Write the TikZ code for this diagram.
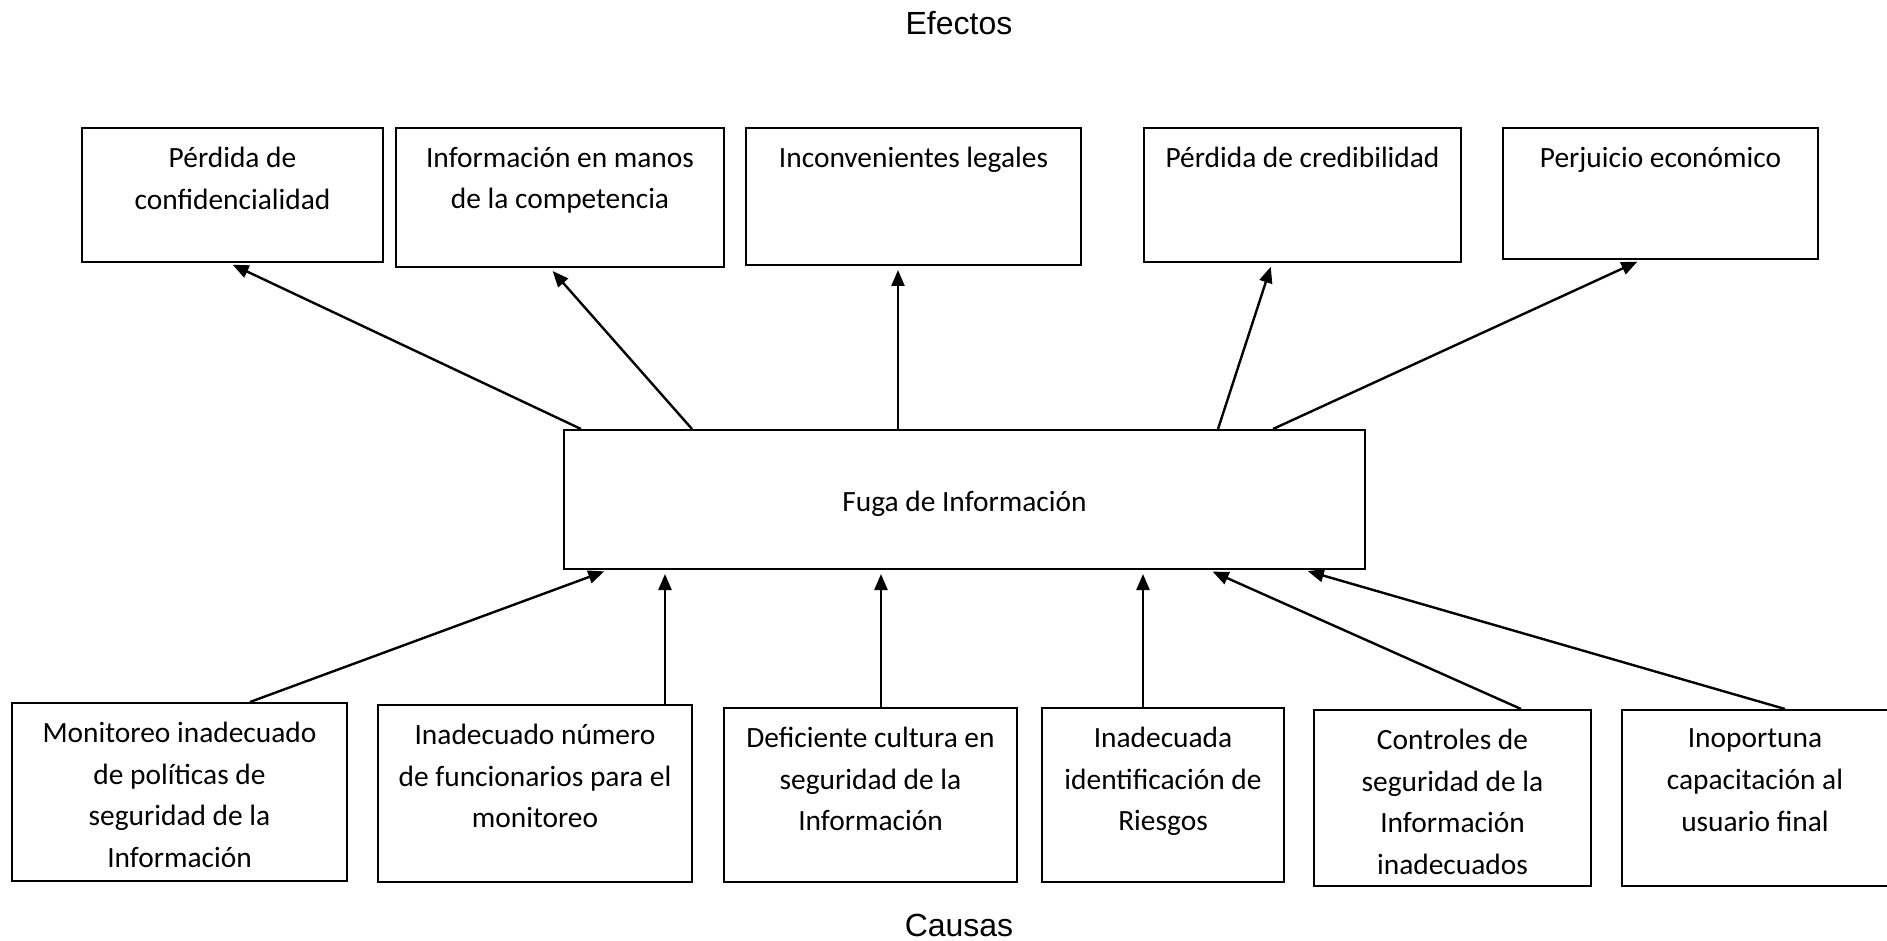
\documentclass[tikz,border=0pt]{standalone}
\usepackage{fontspec}
\setmainfont{Carlito}
\newfontfamily\titlefont{Liberation Sans}
\usetikzlibrary{arrows.meta}
\begin{document}
\begin{tikzpicture}[x=0.5pt,y=-0.5pt,
  box/.style 2 args={draw, line width=1pt, minimum width=#1*0.5pt, minimum height=#2*0.5pt, inner sep=0pt},
  boxtext/.style={anchor=north, align=center, yshift=-6.5pt, font=\fontsize{14.7pt}{20.8pt}\selectfont},
  arr/.style={line width=1.2pt, -{Triangle[length=8pt,width=6.5pt]}, shorten >=2pt},
  titulo/.style={font=\titlefont\fontsize{16pt}{19pt}\selectfont}]
\useasboundingbox (0,0) rectangle (1887,941);
\node[titulo] (efectos) at (959,23) {Efectos};
\node[titulo] (causas) at (959,925) {Causas};
% efectos
\node[box={301}{134}, label={[boxtext]north:{Pérdida de\\confidencialidad}}] (e1) at (232.5,195) {};
\node[box={328}{139}, label={[boxtext]north:{Información en manos\\de la competencia}}] (e2) at (560,197.5) {};
\node[box={335}{137}, label={[boxtext]north:{Inconvenientes legales}}] (e3) at (913.5,196.5) {};
\node[box={317}{134}, label={[boxtext]north:{Pérdida de credibilidad}}] (e4) at (1302.5,195) {};
\node[box={315}{131}, label={[boxtext]north:{Perjuicio económico}}] (e5) at (1660.5,193.5) {};
% problema central
\node[box={801}{139}, font=\fontsize{14.7pt}{20.8pt}\selectfont, text height=15.4pt, text depth=3pt] (fuga) at (964.5,499.5) {Fuga de Información};
% causas
\node[box={335}{178}, label={[boxtext]north:{Monitoreo inadecuado\\de políticas de\\seguridad de la\\Información}}] (c1) at (179.5,792) {};
\node[box={314}{177}, label={[boxtext]north:{Inadecuado número\\de funcionarios para el\\monitoreo}}] (c2) at (535,793.5) {};
\node[box={293}{174}, label={[boxtext]north:{Deficiente cultura en\\seguridad de la\\Información}}] (c3) at (870.5,795) {};
\node[box={242}{174}, label={[boxtext]north:{Inadecuada\\identificación de\\Riesgos}}] (c4) at (1163,795) {};
\node[box={277}{176}, label={[boxtext]north:{Controles de\\seguridad de la\\Información\\inadecuados}}] (c5) at (1452.5,798) {};
\node[box={266}{176}, label={[boxtext]north:{Inoportuna\\capacitación al\\usuario final}}] (c6) at (1755,798) {};
% flechas hacia los efectos
\draw[arr] (fuga.north -| 581,0) -- (e1.south -| 229,0);
\draw[arr] (fuga.north -| 692,0) -- (e2.south -| 550,0);
\draw[arr] (fuga.north -| 898,0) -- (e3.south -| 898,0);
\draw[arr] (fuga.north -| 1218,0) -- (e4.south -| 1272,0);
\draw[arr] (fuga.north -| 1273,0) -- (e5.south -| 1641,0);
% flechas desde las causas
\draw[arr] (c1.north -| 250,0) -- (fuga.south -| 608,0);
\draw[arr] (c2.north -| 665,0) -- (fuga.south -| 665,0);
\draw[arr] (c3.north -| 881,0) -- (fuga.south -| 881,0);
\draw[arr] (c4.north -| 1143,0) -- (fuga.south -| 1143,0);
\draw[arr] (c5.north -| 1521,0) -- (fuga.south -| 1209,0);
\draw[arr] (c6.north -| 1785,0) -- (fuga.south -| 1304,0);
\end{tikzpicture}
\end{document}
